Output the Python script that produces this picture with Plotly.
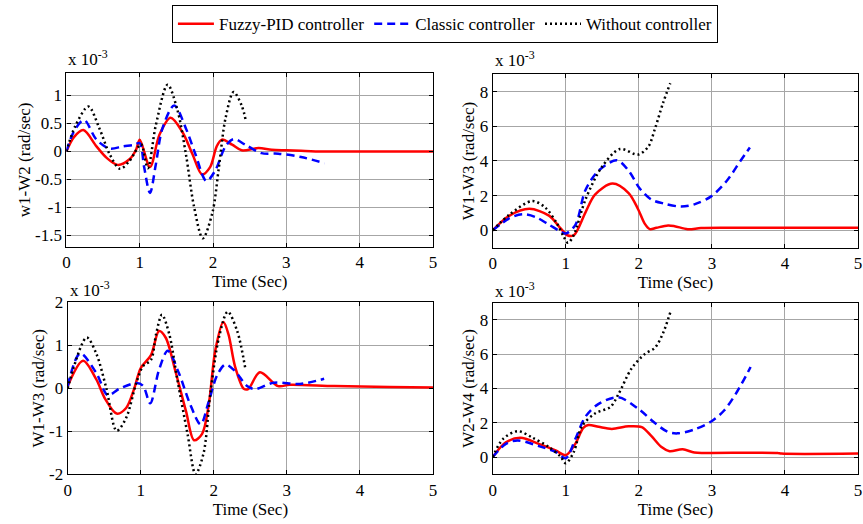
import plotly.graph_objects as go

# ---------------- data (values in units of 1e-3 rad/sec) ----------------
# Top-left: w1-W2
tl_fuzzy_t = [0, 0.1, 0.23, 0.41, 0.545, 0.70, 0.86, 0.95, 1.0, 1.14, 1.27, 1.42, 1.58, 1.72, 1.85, 1.96, 2.05, 2.12, 2.26, 2.39, 2.62, 2.8, 3.0, 3.2, 3.4, 5.0]
tl_fuzzy_v = [0, 0.25, 0.38, 0.09, -0.11, -0.24, -0.14, 0.03, 0.21, -0.28, 0.30, 0.60, 0.35, -0.05, -0.41, -0.28, 0.09, 0.21, 0.12, 0.02, 0.06, 0.03, 0.02, 0.01, 0.0, 0.0]
tl_classic_t = [0, 0.1, 0.24, 0.41, 0.59, 0.77, 0.93, 1.0, 1.06, 1.14, 1.22, 1.31, 1.47, 1.63, 1.76, 1.91, 2.03, 2.17, 2.28, 2.44, 2.66, 2.89, 3.2, 3.52]
tl_classic_v = [0, 0.35, 0.56, 0.21, 0.05, 0.09, 0.12, 0.15, -0.28, -0.74, -0.23, 0.41, 0.82, 0.41, -0.05, -0.53, -0.34, 0.09, 0.22, 0.12, -0.03, -0.04, -0.10, -0.21]
tl_without_t = [0, 0.12, 0.30, 0.45, 0.59, 0.73, 0.86, 0.97, 1.02, 1.11, 1.22, 1.38, 1.51, 1.63, 1.74, 1.86, 1.99, 2.08, 2.17, 2.28, 2.39, 2.45]
tl_without_v = [0, 0.45, 0.80, 0.41, -0.05, -0.31, -0.17, 0.06, 0.13, -0.30, 0.47, 1.19, 0.76, -0.05, -0.98, -1.55, -1.10, -0.28, 0.59, 1.06, 0.82, 0.53]

# Top-right: W1-W3
tr_fuzzy_t = [0, 0.23, 0.50, 0.77, 0.93, 1.02, 1.11, 1.27, 1.40, 1.64, 1.86, 1.99, 2.08, 2.15, 2.24, 2.40, 2.49, 2.67, 2.85, 3.2, 5.0]
tr_fuzzy_v = [0, 0.85, 1.24, 0.85, 0.11, -0.28, -0.28, 1.04, 2.06, 2.70, 2.15, 1.22, 0.39, 0.07, 0.15, 0.28, 0.24, 0.07, 0.13, 0.15, 0.15]
tr_classic_t = [0, 0.23, 0.41, 0.59, 0.77, 0.93, 1.0, 1.13, 1.27, 1.45, 1.70, 1.86, 2.01, 2.17, 2.35, 2.58, 2.76, 2.99, 3.21, 3.39, 3.52]
tr_classic_v = [0, 0.70, 0.93, 0.76, 0.33, -0.07, -0.18, 0.30, 2.33, 3.44, 4.04, 3.44, 2.43, 1.78, 1.54, 1.37, 1.50, 1.96, 2.89, 4.00, 4.78]
tr_without_t = [0, 0.23, 0.54, 0.72, 0.88, 0.97, 1.03, 1.11, 1.27, 1.49, 1.74, 1.99, 2.13, 2.22, 2.33, 2.43]
tr_without_v = [0, 0.91, 1.69, 1.31, 0.39, -0.35, -0.72, -0.26, 1.78, 3.63, 4.69, 4.37, 4.83, 5.85, 7.33, 8.48]

# Bottom-left: W1-W3
bl_fuzzy_t = [0, 0.21, 0.39, 0.51, 0.67, 0.80, 0.91, 1.0, 1.14, 1.25, 1.34, 1.48, 1.62, 1.73, 1.84, 1.93, 2.02, 2.13, 2.20, 2.29, 2.41, 2.47, 2.63, 2.88, 3.04, 3.65, 4.4, 5.0]
bl_fuzzy_v = [0.05, 0.64, 0.21, -0.24, -0.59, -0.46, -0.01, 0.47, 0.77, 1.33, 1.18, 0.36, -0.54, -1.21, -1.06, -0.39, 0.88, 1.54, 1.26, 0.51, -0.01, -0.02, 0.37, 0.05, 0.08, 0.05, 0.03, 0.02]
bl_classic_t = [0, 0.17, 0.39, 0.55, 0.71, 0.94, 1.03, 1.13, 1.25, 1.37, 1.52, 1.68, 1.82, 1.93, 2.05, 2.16, 2.29, 2.45, 2.56, 2.82, 3.18, 3.51]
bl_classic_v = [0.05, 0.81, 0.36, -0.16, -0.01, 0.12, 0.06, -0.35, 0.43, 0.87, 0.36, -0.39, -0.84, -0.31, 0.32, 0.55, 0.40, 0.06, -0.02, 0.13, 0.10, 0.22]
bl_without_t = [0, 0.26, 0.39, 0.53, 0.67, 0.80, 0.94, 1.03, 1.14, 1.21, 1.29, 1.39, 1.50, 1.64, 1.75, 1.86, 1.95, 2.07, 2.19, 2.32, 2.43]
bl_without_v = [0, 1.18, 0.81, -0.01, -0.99, -0.69, 0.13, 0.51, 0.66, 1.26, 1.71, 1.26, 0.21, -1.06, -2.0, -1.51, -0.16, 1.18, 1.78, 1.33, 0.47]

# Bottom-right: W2-W4
br_fuzzy_t = [0, 0.18, 0.38, 0.63, 0.86, 1.0, 1.13, 1.24, 1.31, 1.45, 1.63, 1.86, 2.04, 2.17, 2.31, 2.42, 2.60, 2.76, 2.94, 3.9, 3.95, 5.0]
br_fuzzy_v = [0, 0.86, 1.12, 0.77, 0.39, 0.11, 0.77, 1.70, 1.87, 1.76, 1.64, 1.79, 1.74, 1.23, 0.58, 0.34, 0.45, 0.26, 0.24, 0.24, 0.2, 0.2]
br_classic_t = [0, 0.18, 0.34, 0.63, 0.86, 1.0, 1.13, 1.27, 1.45, 1.72, 1.99, 2.22, 2.40, 2.53, 2.76, 2.99, 3.17, 3.35, 3.53]
br_classic_v = [0, 0.77, 0.97, 0.64, 0.30, -0.07, 1.05, 2.36, 3.10, 3.48, 2.82, 1.98, 1.46, 1.38, 1.61, 2.07, 2.73, 3.85, 5.25]
br_without_t = [0, 0.14, 0.34, 0.54, 0.77, 0.93, 1.0, 1.11, 1.22, 1.40, 1.61, 1.72, 1.90, 2.08, 2.22, 2.33, 2.43]
br_without_v = [0, 1.05, 1.51, 1.14, 0.58, 0.02, -0.36, 0.30, 1.79, 2.54, 2.92, 3.66, 5.16, 6.00, 6.37, 7.21, 8.43]

series_names = ["Fuzzy-PID controller", "Classic controller", "Without controller"]
y_titles = ["w1-W2 (rad/sec)", "W1-W3 (rad/sec)", "W1-W3 (rad/sec)", "W2-W4 (rad/sec)"]
x_title = "Time (Sec)"
x_ticks = [0, 1, 2, 3, 4, 5]
y_ticks_tl = [-1.5, -1, -0.5, 0, 0.5, 1]
y_ticks_tl_text = ["-1.5", "-1", "-0.5", "0", "0.5", "1"]
y_ticks_r = [0, 2, 4, 6, 8]
y_ticks_bl = [-2, -1, 0, 1, 2]
y_ticks_bl_text = ["-2", "-1", "0", "1", "2"]

FONT = "Liberation Serif, Times New Roman, serif"
FS = 17
colors = ["#ff0000", "#0000ff", "#000000"]
dashes = ["solid", "8px,5px", "2px,3px"]

panels = [
    ((tl_fuzzy_t, tl_fuzzy_v), (tl_classic_t, tl_classic_v), (tl_without_t, tl_without_v)),
    ((tr_fuzzy_t, tr_fuzzy_v), (tr_classic_t, tr_classic_v), (tr_without_t, tr_without_v)),
    ((bl_fuzzy_t, bl_fuzzy_v), (bl_classic_t, bl_classic_v), (bl_without_t, bl_without_v)),
    ((br_fuzzy_t, br_fuzzy_v), (br_classic_t, br_classic_v), (br_without_t, br_without_v)),
]

W, H = 863, 524
def px_dom_x(a, b):
    return [a / W, b / W]
def px_dom_y(top, bottom):
    return [1 - bottom / H, 1 - top / H]

xdoms = [px_dom_x(63, 433), px_dom_x(493.3, 862), px_dom_x(64.3, 433), px_dom_x(493.3, 862)]
ydoms = [px_dom_y(66.3, 246.7), px_dom_y(67.7, 247.7), px_dom_y(304.3, 482.7), px_dom_y(304.7, 482.7)]
yranges = [[-1.7, 1.4], [-1, 9], [-2, 2], [-1, 9]]
yticks = [(y_ticks_tl, y_ticks_tl_text), (y_ticks_r, [str(v) for v in y_ticks_r]),
          (y_ticks_bl, y_ticks_bl_text), (y_ticks_r, [str(v) for v in y_ticks_r])]
ann_shift = [2, 2, 0, 0]

fig = go.Figure()
layout = dict(
    width=W, height=H,
    margin=dict(l=0, r=0, t=0, b=0),
    paper_bgcolor="white", plot_bgcolor="white",
    font=dict(family=FONT, size=FS, color="black"),
    showlegend=True,
    legend=dict(orientation="h", x=169.5 / W, xanchor="left", y=1 + 4 / H, yanchor="top",
                bordercolor="black", borderwidth=1, bgcolor="white",
                font=dict(family=FONT, size=FS), itemwidth=36, tracegroupgap=0,
                valign="middle"),
)
annotations = []
for i in range(4):
    ax = "" if i == 0 else str(i + 1)
    for j, (tt, vv) in enumerate(panels[i]):
        fig.add_trace(go.Scatter(
            x=tt, y=vv, mode="lines", name=series_names[j],
            line=dict(color=colors[j], width=2.5, dash=dashes[j], shape="spline", smoothing=0.9),
            xaxis="x" + ax, yaxis="y" + ax, showlegend=(i == 0),
        ))
    layout["xaxis" + ax] = dict(
        domain=xdoms[i], anchor="y" + ax, range=[0, 5], tickvals=x_ticks,
        ticktext=[str(v) for v in x_ticks],
        showgrid=True, gridcolor="#a6a6a6", gridwidth=1, zeroline=False,
        showline=True, linecolor="black", linewidth=1.2, mirror="ticks",
        ticks="inside", ticklen=4, tickcolor="black",
        tickfont=dict(family=FONT, size=FS),
        title=dict(text=x_title, font=dict(family=FONT, size=FS), standoff=0),
    )
    layout["yaxis" + ax] = dict(
        domain=ydoms[i], anchor="x" + ax, range=yranges[i],
        tickvals=yticks[i][0], ticktext=yticks[i][1],
        showgrid=True, gridcolor="#a6a6a6", gridwidth=1, zeroline=False,
        showline=True, linecolor="black", linewidth=1.2, mirror="ticks",
        ticks="inside", ticklen=4, tickcolor="black",
        tickfont=dict(family=FONT, size=FS),
        title=dict(text=y_titles[i], font=dict(family=FONT, size=FS), standoff=0),
    )
    annotations.append(dict(
        text="x 10<sup>-3</sup>", xref="paper", yref="paper",
        x=xdoms[i][0], y=ydoms[i][1], xanchor="left", yanchor="bottom",
        showarrow=False, font=dict(family=FONT, size=FS), yshift=ann_shift[i],
    ))
layout["annotations"] = annotations
fig.update_layout(**layout)
fig.write_html("out.html")
